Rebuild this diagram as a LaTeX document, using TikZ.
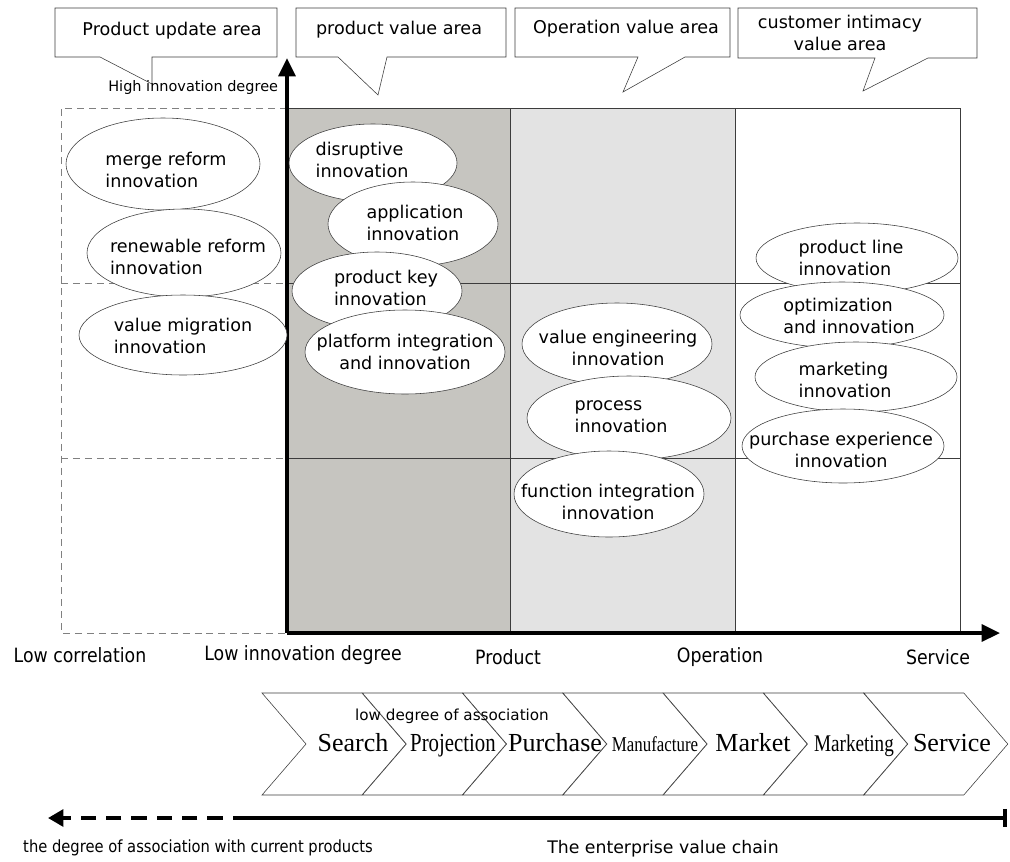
\documentclass[tikz,border=0pt]{standalone}
\usepackage{fontspec}
\setmainfont{DejaVu Sans}
\newfontfamily\condfont[FakeStretch=0.88]{DejaVu Sans}
\newfontfamily\chevfont{Liberation Serif}
\newfontfamily\chevcond[FakeStretch=0.8]{Liberation Serif}
\usetikzlibrary{shapes.geometric,arrows.meta}

\definecolor{prodgray}{RGB}{198,197,192}
\definecolor{opgray}{RGB}{227,227,227}
\definecolor{linegray}{RGB}{60,60,60}

\begin{document}
\begin{tikzpicture}[x=0.025cm,y=-0.025cm,
    inno/.style={ellipse,draw=linegray,fill=white,inner sep=0pt},
    esize/.style 2 args={minimum width=#1*0.025cm,minimum height=#2*0.025cm},
    innotext/.style={font=\fontsize{12.5}{15.5}\selectfont},
    callout/.style={draw=linegray,fill=white},
    calltext/.style={font=\fontsize{12.5}{15.5}\selectfont,align=center},
    axislabel/.style={font=\condfont\fontsize{14}{16}\selectfont},
    stage/.style={font=\chevfont\fontsize{18.5}{20}\selectfont,anchor=base},
    stagecond/.style={font=\chevcond\fontsize{#1}{20}\selectfont,anchor=base},
    chev/.style={draw=linegray,fill=white},
    griddash/.style={gray,dash pattern=on 5pt off 3.5pt}]

    \useasboundingbox (0,0) rectangle (1010,861);

    % value areas
    \fill[prodgray] (287,108) rectangle (510,633);
    \fill[opgray] (510,108) rectangle (735,633);
    \draw[linegray] (287,108) rectangle (960,633);
    \draw[linegray] (510,108) -- (510,633);
    \draw[linegray] (735,108) -- (735,633);
    \draw[linegray] (287,283) -- (960,283);
    \draw[linegray] (287,458) -- (960,458);
    \draw[griddash] (287,108) -- (61,108) -- (61,633) -- (287,633);
    \draw[griddash] (61,283) -- (287,283);
    \draw[griddash] (61,458) -- (287,458);

    % call-outs
    \draw[callout] (55,8) -- (277,8) -- (277,57) -- (152,57) -- (152,84) -- (100,57) -- (55,57) -- cycle;
    \draw[callout] (296,8) -- (506,8) -- (506,57) -- (387,57) -- (378,95) -- (338,57) -- (296,57) -- cycle;
    \draw[callout] (515,8) -- (730,8) -- (730,57) -- (685,57) -- (623,92) -- (638,57) -- (515,57) -- cycle;
    \draw[callout] (738,8) -- (977,8) -- (977,58) -- (928,58) -- (863,91) -- (875,58) -- (738,58) -- cycle;
    \node[calltext] (upd) at (172,31) {Product update area};
    \node[calltext] (pva) at (399,30) {product value area};
    \node[calltext] (ova) at (626,29) {Operation value area};
    \node[calltext] (cva) at (840,33) {customer intimacy\\value area};

    % axes
    \coordinate (origin) at (287,633);
    \coordinate (ytop) at (287,58);
    \coordinate (xend) at (1000,633);
    \draw[line width=2.6pt,-{Triangle[length=13pt,width=12pt]}] (origin) -- (ytop);
    \draw[line width=2.6pt,-{Triangle[length=13pt,width=12pt]}] (origin) -- (xend);
    \node[anchor=east,font=\fontsize{10.3}{12}\selectfont] (high) at (283,88) {High innovation degree};

    % innovations
    \node[inno,esize={194}{92}] (merge) at (163,164) {};
    \node[innotext,align=left] (merge-t) at (166,170) {merge reform\\innovation};
    \node[inno,esize={194}{88}] (renew) at (184,253) {};
    \node[innotext,align=left] (renew-t) at (188,257) {renewable reform\\innovation};
    \node[inno,esize={208}{80}] (migr) at (183,335) {};
    \node[innotext,align=left] (migr-t) at (183,336) {value migration\\innovation};

    \node[inno,esize={168}{78}] (disr) at (373,163) {};
    \node[innotext,align=left] (disr-t) at (362,160) {disruptive\\innovation};
    \node[inno,esize={170}{84}] (appl) at (413,224) {};
    \node[innotext,align=left] (appl-t) at (415,223) {application\\innovation};
    \node[inno,esize={170}{78}] (pkey) at (377,291) {};
    \node[innotext,align=left] (pkey-t) at (386,288) {product key\\innovation};
    \node[inno,esize={200}{84}] (plat) at (405,352) {};
    \node[innotext,align=center] (plat-t) at (405,352) {platform integration\\and innovation};

    \node[inno,esize={190}{82}] (veng) at (617,344) {};
    \node[innotext,align=center] (veng-t) at (618,348) {value engineering\\innovation};
    \node[inno,esize={204}{84}] (proc) at (629,418) {};
    \node[innotext,align=left] (proc-t) at (621,417) {process\\innovation};
    \node[inno,esize={190}{86}] (func) at (609,494) {};
    \node[innotext,align=center] (func-t) at (608,502) {function integration\\innovation};

    \node[inno,esize={202}{70}] (pline) at (857,258) {};
    \node[innotext,align=left] (pline-t) at (851,258) {product line\\innovation};
    \node[inno,esize={204}{66}] (optim) at (842,315) {};
    \node[innotext,align=left] (optim-t) at (849,316) {optimization\\and innovation};
    \node[inno,esize={202}{70}] (mark) at (856,377) {};
    \node[innotext,align=left] (mark-t) at (845,380) {marketing\\innovation};
    \node[inno,esize={202}{74}] (purch) at (843,446) {};
    \node[innotext,align=center] (purch-t) at (841,450) {purchase experience\\innovation};

    % axis labels
    \node[axislabel] (lowcor) at (80,655) {Low correlation};
    \node[axislabel] (lowinn) at (303,655) {Low innovation degree};
    \node[axislabel] (prod) at (508,657) {Product};
    \node[axislabel] (oper) at (720,657) {Operation};
    \node[axislabel] (serv) at (938,657) {Service};

    % value chain
    \foreach \i in {0,...,6}
        \draw[chev] ({262+100.3*\i},693) -- ({362+100.3*\i},693) -- ({406+100.3*\i},744)
            -- ({362+100.3*\i},795) -- ({262+100.3*\i},795) -- ({306+100.3*\i},744) -- cycle;
    \node[stage] (search) at (353,751) {Search};
    \node[stagecond=18.5] (proj) at (453,751) {Projection};
    \node[stage] (purchase) at (555,751) {Purchase};
    \node[stagecond=15] (manu) at (655,751) {Manufacture};
    \node[stage] (market) at (753,751) {Market};
    \node[stagecond=17] (mktg) at (854,751) {Marketing};
    \node[stage] (service) at (952,751) {Service};
    \node[font=\fontsize{10.8}{12}\selectfont] (lowdeg) at (452,716) {low degree of association};

    % bottom scale
    \coordinate (split) at (248,818);
    \coordinate (leftend) at (48,818);
    \coordinate (rightend) at (1007,818);
    \draw[line width=2.6pt,dash pattern=on 11pt off 7pt,-{Triangle[length=11pt,width=12pt]}] (split) -- (leftend);
    \draw[line width=2.6pt,-{Bar[width=13pt]}] (split) -- (rightend);
    \node[font=\condfont\fontsize{11.9}{14}\selectfont] (assoc) at (198,848) {the degree of association with current products};
    \node[font=\fontsize{12.3}{14}\selectfont] (chain) at (663,849) {The enterprise value chain};
\end{tikzpicture}
\end{document}
